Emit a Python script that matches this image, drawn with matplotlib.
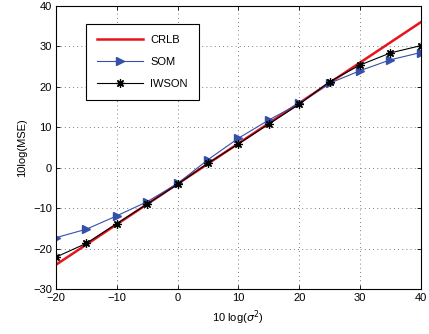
import numpy as np
import matplotlib
matplotlib.use("Agg")
import matplotlib.pyplot as plt

plt.rcParams['font.family'] = ['Liberation Sans', 'DejaVu Sans']
plt.rcParams['font.size'] = 8

snr_db = [-20, -15, -10, -5, 0, 5, 10, 15, 20, 25, 30, 35, 40]
crlb_x = [-20, 40]
crlb_y = [-24, 36]
som = [-17.3, -15.2, -11.9, -8.4, -3.9, 2.0, 7.3, 11.8, 15.9, 20.9, 24.0, 26.7, 28.5]
iwson = [-22.1, -18.7, -13.8, -9.0, -4.1, 1.1, 5.9, 10.8, 15.7, 21.3, 25.4, 28.4, 30.2]

fig = plt.figure(figsize=(4.29, 3.34), dpi=100)
ax = fig.add_axes([0.1305, 0.1347, 0.8505, 0.8473])

ax.plot(crlb_x, crlb_y, color="#e8141c", linewidth=1.8, label="CRLB")
ax.plot(snr_db, som, color="#3450a8", linewidth=0.8, marker=">", markersize=6,
        label="SOM")
ax.plot(snr_db, iwson, color="black", linewidth=0.8, marker=(8, 2, 0),
        markersize=6, markeredgewidth=0.9, label="IWSON")

ax.set_xlim(-20, 40)
ax.set_ylim(-30, 40)
ax.set_xticks(np.arange(-20, 41, 10))
ax.set_yticks(np.arange(-30, 41, 10))
ax.tick_params(direction="in", length=3, width=0.6, top=True, right=True,
               labelsize=8, pad=3)
ax.grid(True, linestyle=(0, (1, 4)), color="#555555", linewidth=0.6)
for s in ax.spines.values():
    s.set_linewidth(0.8)

ax.set_xlabel("10 log($\\sigma^2$)", fontsize=8)
ax.set_ylabel("10log(MSE)", fontsize=8)

leg = ax.legend(loc="upper left", bbox_to_anchor=(0.082, 0.936), fontsize=8,
                handlelength=4.1, labelspacing=1.05, borderpad=1.0,
                fancybox=False, framealpha=1, edgecolor="black",
                borderaxespad=0, handletextpad=0.7)
leg.get_frame().set_linewidth(0.8)
# widen the box a little to match the reference
fig.canvas.draw()
bb = leg.get_frame().get_bbox()
leg.get_frame().set_width(bb.width + 4)

fig.savefig("out.png", dpi=100)
